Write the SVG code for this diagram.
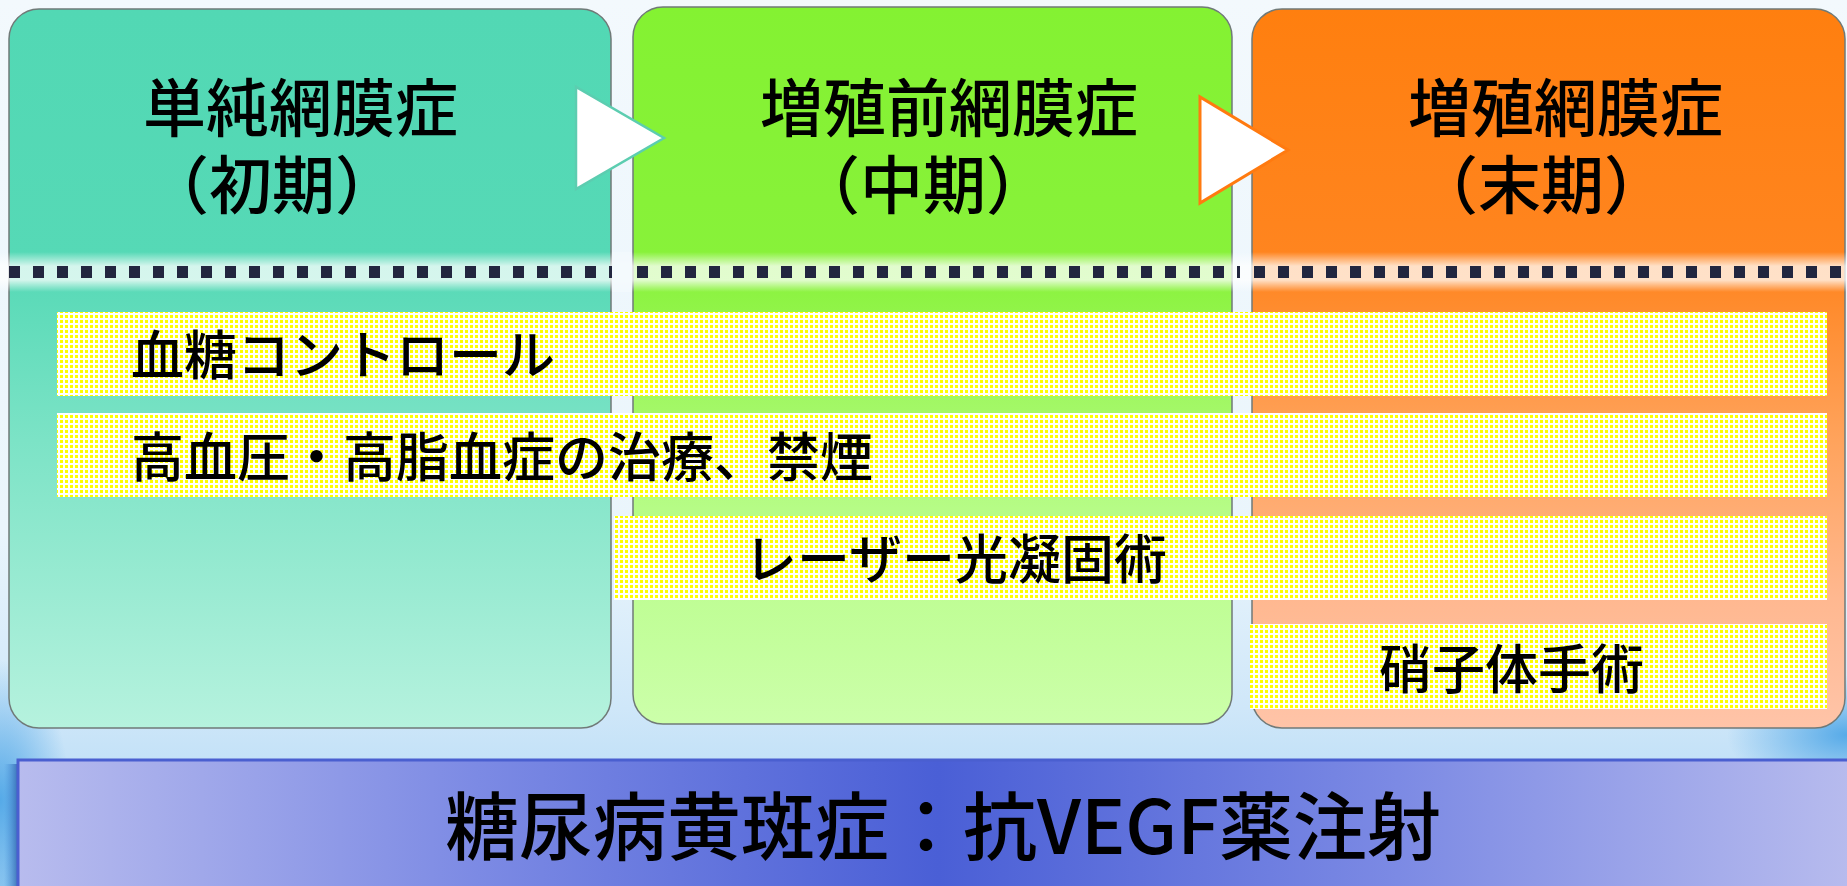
<svg xmlns="http://www.w3.org/2000/svg" width="1847" height="886" viewBox="0 0 1847 886">
  <defs>
    <linearGradient id="bg" x1="0" y1="0" x2="0" y2="1">
      <stop offset="0" stop-color="#f3f9fd"/>
      <stop offset="0.6" stop-color="#eaf5fc"/>
      <stop offset="0.8" stop-color="#cfe7f9"/>
      <stop offset="1" stop-color="#a8d4f4"/>
    </linearGradient>
    <radialGradient id="swoosh" cx="0.5" cy="0.5" r="0.5">
      <stop offset="0" stop-color="#4aa4e6" stop-opacity="0.9"/>
      <stop offset="1" stop-color="#4aa4e6" stop-opacity="0"/>
    </radialGradient>
    <linearGradient id="g1" x1="0" y1="0" x2="0" y2="1">
      <stop offset="0" stop-color="#52d8b4"/>
      <stop offset="0.36" stop-color="#56d9b6"/>
      <stop offset="0.6" stop-color="#7ce3c6"/>
      <stop offset="1" stop-color="#b6f2de"/>
    </linearGradient>
    <linearGradient id="g2" x1="0" y1="0" x2="0" y2="1">
      <stop offset="0" stop-color="#84f232"/>
      <stop offset="0.36" stop-color="#88f23a"/>
      <stop offset="0.7" stop-color="#b6fc86"/>
      <stop offset="1" stop-color="#ccffaa"/>
    </linearGradient>
    <linearGradient id="g3" x1="0" y1="0" x2="0" y2="1">
      <stop offset="0" stop-color="#ff7f0f"/>
      <stop offset="0.36" stop-color="#ff8520"/>
      <stop offset="0.6" stop-color="#ffa35c"/>
      <stop offset="0.82" stop-color="#ffb890"/>
      <stop offset="1" stop-color="#ffc4a8"/>
    </linearGradient>
    <linearGradient id="glow" x1="0" y1="0" x2="0" y2="1">
      <stop offset="0" stop-color="#ffffff" stop-opacity="0"/>
      <stop offset="0.35" stop-color="#ffffff" stop-opacity="0.75"/>
      <stop offset="0.7" stop-color="#ffffff" stop-opacity="0.75"/>
      <stop offset="1" stop-color="#ffffff" stop-opacity="0"/>
    </linearGradient>
    <linearGradient id="banner" x1="0" y1="0" x2="1" y2="0">
      <stop offset="0" stop-color="#b8bcee"/>
      <stop offset="0.25" stop-color="#7c8ae4"/>
      <stop offset="0.5" stop-color="#4a5fd6"/>
      <stop offset="0.75" stop-color="#7c8ae4"/>
      <stop offset="1" stop-color="#b8bcee"/>
    </linearGradient>
    <linearGradient id="bshadow" x1="0" y1="0" x2="1" y2="0">
      <stop offset="0" stop-color="#3a8ad8" stop-opacity="0"/>
      <stop offset="1" stop-color="#2a5ca8" stop-opacity="0.8"/>
    </linearGradient>
    <pattern id="dots" width="5" height="5" patternUnits="userSpaceOnUse">
      <rect width="5" height="5" fill="#ffffff"/>
      <rect width="3" height="3" fill="#ffff00"/>
    </pattern>
  </defs>
  <style>
    .panel { stroke: #707a78; stroke-width: 1.5; }
    .title { font-family: "Noto Sans CJK JP", "Noto Sans", sans-serif; font-size: 63px; font-weight: 500; fill: #000000; }
    .band { fill: url(#dots); }
    .btext { font-family: "Noto Sans CJK JP", "Noto Sans", sans-serif; font-size: 53px; font-weight: 500; fill: #000000; }
    .bantext { font-family: "Noto Sans CJK JP", "Noto Sans", sans-serif; font-size: 74px; font-weight: 500; fill: #000000; }
  </style>

  <!-- background -->
  <rect x="0" y="0" width="1847" height="886" fill="url(#bg)"/>
  <ellipse cx="0" cy="800" rx="70" ry="140" fill="url(#swoosh)"/>
  <ellipse cx="1847" cy="735" rx="120" ry="60" fill="url(#swoosh)"/>

  <!-- panels -->
  <g id="panel1">
    <rect class="panel" x="9" y="9" width="602" height="719" rx="30" ry="30" fill="url(#g1)"/>
  </g>
  <g id="panel2">
    <rect class="panel" x="633" y="7" width="599" height="717" rx="30" ry="30" fill="url(#g2)"/>
  </g>
  <g id="panel3">
    <rect class="panel" x="1252" y="9" width="593" height="719" rx="30" ry="30" fill="url(#g3)"/>
  </g>

  <!-- divider line -->
  <g id="divider">
    <rect x="0" y="252" width="1847" height="40" fill="url(#glow)"/>
    <rect x="612" y="252" width="20" height="40" fill="#f2f9fd" opacity="0.8"/>
    <line x1="9" y1="272" x2="612" y2="272" stroke="#22263f" stroke-width="12" stroke-dasharray="11 13"/>
    <line x1="637" y1="272" x2="1240" y2="272" stroke="#22263f" stroke-width="12" stroke-dasharray="11 13"/>
    <line x1="1254" y1="272" x2="1847" y2="272" stroke="#22263f" stroke-width="12" stroke-dasharray="11 13"/>
  </g>

  <!-- titles -->
  <g id="title1">
    <text class="title"><tspan x="143" y="131">単純網膜症</tspan><tspan x="146" y="208">（初期）</tspan></text>
  </g>
  <g id="title2">
    <text class="title"><tspan x="760" y="131">増殖前網膜症</tspan><tspan x="797" y="208">（中期）</tspan></text>
  </g>
  <g id="title3">
    <text class="title"><tspan x="1408" y="131">増殖網膜症</tspan><tspan x="1415" y="208">（末期）</tspan></text>
  </g>

  <!-- connectors (arrows) -->
  <g id="connectors">
    <polygon points="576,87 576,189 664,138" fill="#ffffff" stroke="#5ccdb0" stroke-width="2.5" stroke-linejoin="miter"/>
    <polygon points="1200,97 1200,203 1288,150" fill="#ffffff" stroke="#ff7a10" stroke-width="3" stroke-linejoin="miter"/>
  </g>

  <!-- treatment bands -->
  <g id="band1">
    <rect class="band" x="57" y="312" width="1770" height="84"/>
    <text class="btext" x="131" y="375">血糖コントロール</text>
  </g>
  <g id="band2">
    <rect class="band" x="57" y="413" width="1770" height="84"/>
    <text class="btext" x="131" y="477">高血圧・高脂血症の治療、禁煙</text>
  </g>
  <g id="band3">
    <rect class="band" x="614" y="516" width="1213" height="84"/>
    <text class="btext" x="744" y="579">レーザー光凝固術</text>
  </g>
  <g id="band4">
    <rect class="band" x="1250" y="624" width="577" height="85"/>
    <text class="btext" x="1379" y="689">硝子体手術</text>
  </g>

  <!-- bottom banner -->
  <g id="banner">
    <rect x="4" y="764" width="14" height="122" fill="url(#bshadow)"/>
    <rect x="18" y="760" width="1840" height="140" fill="url(#banner)" stroke="#4a5fd0" stroke-width="3"/>
    <text class="bantext" x="445" y="854">糖尿病黄斑症：抗VEGF薬注射</text>
  </g>
</svg>
